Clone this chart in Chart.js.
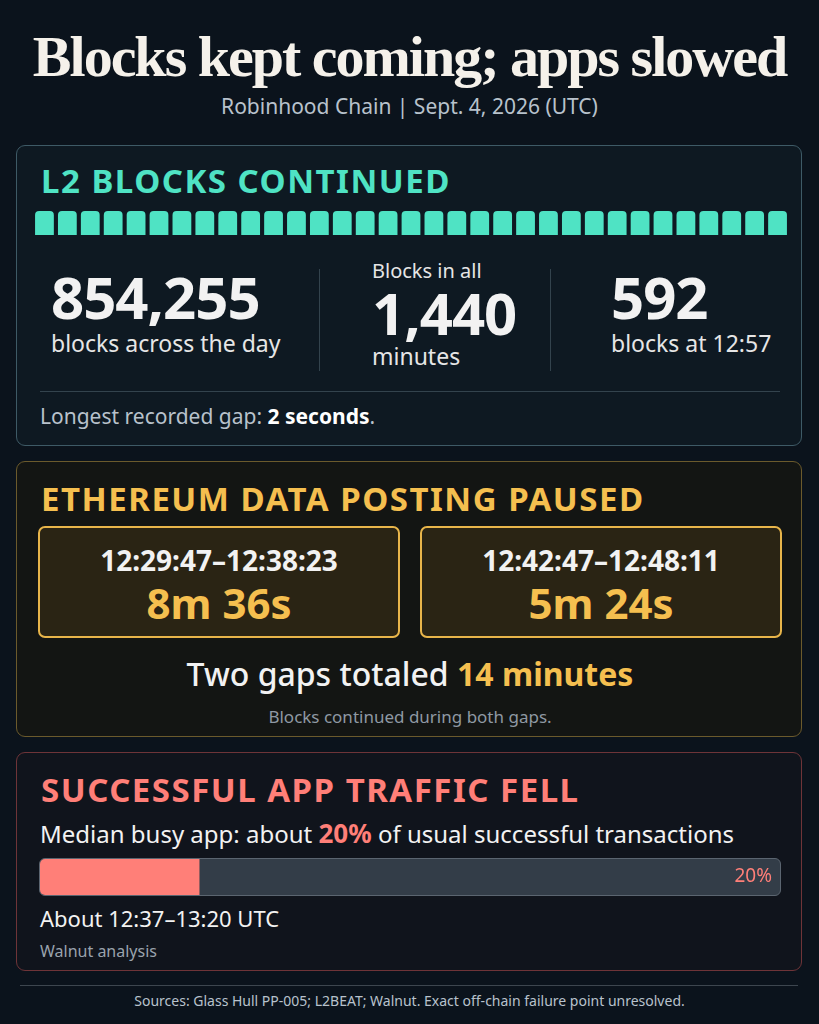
<!DOCTYPE html>
<html><head><meta charset="utf-8">
<script src="https://cdn.jsdelivr.net/npm/chart.js@4"></script>
<style>
body{margin:0;width:819px;height:1024px;background:#0b131c;color:#f2f2f2;font-family:"Noto Sans",sans-serif;position:relative;overflow:hidden}
.abs{position:absolute}
h1{position:absolute;left:0;width:819px;top:24px;margin:0;text-align:center;font-family:"Liberation Serif",serif;font-weight:bold;font-size:58px;line-height:66px;letter-spacing:-2px;color:#f5f1ea;white-space:nowrap}
.sub{left:0;width:819px;top:92px;text-align:center;font-size:21px;color:#b8c2cc}
.card{position:absolute;left:16px;width:786px;border-radius:9px;box-sizing:border-box}
.hd{position:absolute;left:24px;font-weight:bold;font-size:33px;letter-spacing:1.5px;white-space:nowrap}
.big{font-weight:bold;font-size:58px;line-height:62px;letter-spacing:-1px}
.lbl{font-size:23px;line-height:30px;color:#e6e6e6;white-space:nowrap}
.gapbox{position:absolute;top:64px;width:362px;height:112px;border:2px solid #e8b54a;border-radius:7px;background:#2a2414;box-sizing:border-box;text-align:center}
</style></head><body>
<h1>Blocks kept coming; apps slowed</h1>
<div class="abs sub">Robinhood Chain | Sept. 4, 2026 (UTC)</div>

<div class="card" style="top:145px;height:301px;border:1.5px solid #3e5a66;background:#0e1922">
  <div class="hd" style="top:12px;color:#4fe3c4">L2 BLOCKS CONTINUED</div>
  <div class="abs" style="left:16px;top:58px;width:756px;height:40px"><canvas id="blocks"></canvas></div>
  <div class="abs" style="left:34px;top:120px"><div class="big">854,255</div><div class="lbl">blocks across the day</div></div>
  <div class="abs" style="left:302px;top:123px;width:1px;height:102px;background:#33434d"></div>
  <div class="abs" style="left:355px;top:112px"><div class="lbl" style="font-size:20px;line-height:26px">Blocks in all</div><div class="big" style="line-height:58px">1,440</div><div class="lbl" style="line-height:28px">minutes</div></div>
  <div class="abs" style="left:533px;top:123px;width:1px;height:102px;background:#33434d"></div>
  <div class="abs" style="left:594px;top:120px"><div class="big">592</div><div class="lbl">blocks at 12:57</div></div>
  <div class="abs" style="left:23px;top:245px;width:740px;height:1px;background:#33434d"></div>
  <div class="abs lbl" style="left:23px;top:255px;color:#b8c2cc;font-size:21px">Longest recorded gap: <b style="color:#fff">2 seconds</b>.</div>
</div>

<div class="card" style="top:461px;height:276px;border:1.5px solid #6b5a2c;background:#131513">
  <div class="hd" style="top:14px;color:#f5bf4f">ETHEREUM DATA POSTING PAUSED</div>
  <div class="gapbox" style="left:21px"><div style="font-weight:bold;font-size:28px;margin-top:13px">12:29:47–12:38:23</div><div style="font-weight:bold;font-size:42px;color:#f5bf4f;line-height:48px">8m 36s</div></div>
  <div class="gapbox" style="left:403px"><div style="font-weight:bold;font-size:28px;margin-top:13px">12:42:47–12:48:11</div><div style="font-weight:bold;font-size:42px;color:#f5bf4f;line-height:48px">5m 24s</div></div>
  <div class="abs" style="left:0;width:786px;top:190px;text-align:center;font-size:32px;font-weight:500">Two gaps totaled <b style="color:#f5bf4f">14 minutes</b></div>
  <div class="abs" style="left:0;width:786px;top:243px;text-align:center;font-size:17px;color:#8f99a3">Blocks continued during both gaps.</div>
</div>

<div class="card" style="top:752px;height:219px;border:1.5px solid #6e3438;background:#10141c">
  <div class="hd" style="top:14px;color:#ff7f78">SUCCESSFUL APP TRAFFIC FELL</div>
  <div class="abs" style="left:23px;top:62px;font-size:24px;white-space:nowrap">Median busy app: about <b style="color:#ff7f78;font-size:26px">20%</b> of usual successful transactions</div>
  <div class="abs" style="left:22px;top:105px;width:740px;height:36px;border:1.5px solid #5b6570;border-radius:6px;overflow:hidden;background:#333d48"><canvas id="bar"></canvas></div>
  <div class="abs" style="left:23px;top:150px;font-size:22px">About 12:37–13:20 UTC</div>
  <div class="abs" style="left:23px;top:187px;font-size:16px;color:#9aa3ad">Walnut analysis</div>
</div>
<div class="abs" style="left:20px;top:985px;width:778px;height:1px;background:#3d464f"></div>
<div class="abs" style="left:0;width:819px;top:991px;text-align:center;font-size:14px;color:#b8c2cc">Sources: Glass Hull PP-005; L2BEAT; Walnut. Exact off-chain failure point unresolved.</div>

<script>
// 33 equal segments across the day
const blockSegments = Array.from({length: 33}, (_, i) => 'seg' + (i + 1));
const blockValues = [1,1,1,1,1,1,1,1,1,1,1,1,1,1,1,1,1,1,1,1,1,1,1,1,1,1,1,1,1,1,1,1,1];
const trafficCategories = ['Median busy app'];
const trafficShare = [20];
const trafficMax = 93; // fill reaches ~21% of the track in the picture

Chart.defaults.animation = false;

new Chart(document.getElementById('blocks'), {
    type: 'bar',
    data: {labels: blockSegments, datasets: [{data: blockValues, backgroundColor: '#4fe3c4', borderRadius: 4, categoryPercentage: 1, barPercentage: 0.82}]},
    options: {
        responsive: true, maintainAspectRatio: false,
        layout: {padding: {top: 7, bottom: 9}},
        plugins: {legend: {display: false}, tooltip: {enabled: false}},
        scales: {x: {display: false}, y: {display: false, min: 0, max: 1}}
    }
});

new Chart(document.getElementById('bar'), {
    type: 'bar',
    data: {labels: trafficCategories, datasets: [{data: trafficShare, backgroundColor: '#ff7f78', categoryPercentage: 1, barPercentage: 1}]},
    options: {
        indexAxis: 'y', responsive: true, maintainAspectRatio: false,
        plugins: {legend: {display: false}, tooltip: {enabled: false}},
        scales: {x: {display: false, min: 0, max: trafficMax}, y: {display: false}}
    },
    plugins: [{
        id: 'pctLabel',
        afterDraw(chart) {
            const c = chart.ctx;
            c.save();
            c.fillStyle = '#ff7f78';
            c.font = '19px "Noto Sans"';
            c.textAlign = 'right';
            c.textBaseline = 'middle';
            c.fillText(trafficShare[0] + '%', chart.width - 8, chart.height / 2);
            c.restore();
        }
    }]
});
</script>
</body></html>
